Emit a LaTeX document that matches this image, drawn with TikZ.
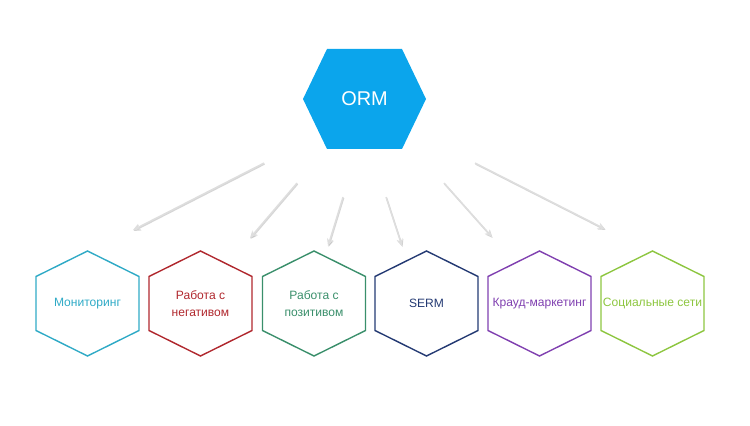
\documentclass[tikz,border=0pt]{standalone}
\usepackage{fontspec}
\setmainfont{Liberation Sans}
\usepackage{tikz}
\usetikzlibrary{arrows.meta,calc}
\definecolor{ormBlue}{HTML}{0BA5EC}
\definecolor{monTeal}{HTML}{2FAAC6}
\definecolor{negRed}{HTML}{B0282E}
\definecolor{posGreen}{HTML}{3A8F6B}
\definecolor{sermNavy}{HTML}{243A73}
\definecolor{crowdPurple}{HTML}{8040B0}
\definecolor{socLime}{HTML}{8DC640}
\tikzset{
  ormlabel/.style={font=\fontsize{17}{20}\selectfont, text=white, inner sep=0pt},
  hexlabel/.style={font=\fontsize{10.3}{14}\selectfont, align=center, inner sep=0pt},
  hexline/.style={line width=1.2pt, line join=miter},
  rayarr/.style={-{Stealth[length=2.2mm, width=1.9mm]}, line width=1.2pt, draw=black!13},
  rayshadow/.style={-{Stealth[length=2.2mm, width=1.9mm]}, line width=1.3pt, draw=black!40, opacity=0.4},
}
\newcommand{\hexbox}[4]{%
  \node[hexlabel, text=#3] (#1) at (#2,303.5) {#4};
  \draw[hexline, draw=#3] ($(#1)+(0,-52.5)$) -- ($(#1)+(51.5,-27)$) -- ($(#1)+(51.5,27)$)
    -- ($(#1)+(0,52.5)$) -- ($(#1)+(-51.5,27)$) -- ($(#1)+(-51.5,-27)$) -- cycle;
}

\begin{document}
\begin{tikzpicture}[x=0.03cm, y=-0.03cm]
    \useasboundingbox (0,0) rectangle (750,426);
    % top hexagon
    \coordinate (ormc) at (364.5,99);
    \fill[ormBlue] ($(ormc)+(-37.5,-50)$) -- ($(ormc)+(37.5,-50)$) -- ($(ormc)+(61.5,0)$)
        -- ($(ormc)+(37.5,50)$) -- ($(ormc)+(-37.5,50)$) -- ($(ormc)+(-61.5,0)$) -- cycle;
    \node[ormlabel] (orm) at (ormc) {ORM};
    % bottom row
    \hexbox{mon}{87.5}{monTeal}{Мониторинг}
    \hexbox{neg}{200.5}{negRed}{Работа с\\негативом}
    \hexbox{pos}{314}{posGreen}{Работа с\\позитивом}
    \hexbox{serm}{426.5}{sermNavy}{SERM}
    \hexbox{crowd}{539.5}{crowdPurple}{Крауд-маркетинг}
    \hexbox{soc}{652.5}{socLime}{Социальные сети}
    % rays
    \coordinate (s1) at (264,163); \coordinate (e1) at (133,230);
    \coordinate (s2) at (297,183); \coordinate (e2) at (250,238);
    \coordinate (s3) at (343,197); \coordinate (e3) at (328,246);
    \coordinate (s4) at (386,197); \coordinate (e4) at (402,246);
    \coordinate (s5) at (444,183); \coordinate (e5) at (492,237);
    \coordinate (s6) at (475,163); \coordinate (e6) at (605,229);
    \foreach \i in {1,...,6}{
      \draw[rayshadow, transform canvas={shift={(0.5pt,-0.8pt)}}] (s\i) -- (e\i);
      \draw[rayarr] (s\i) -- (e\i);
    }
\end{tikzpicture}
\end{document}
